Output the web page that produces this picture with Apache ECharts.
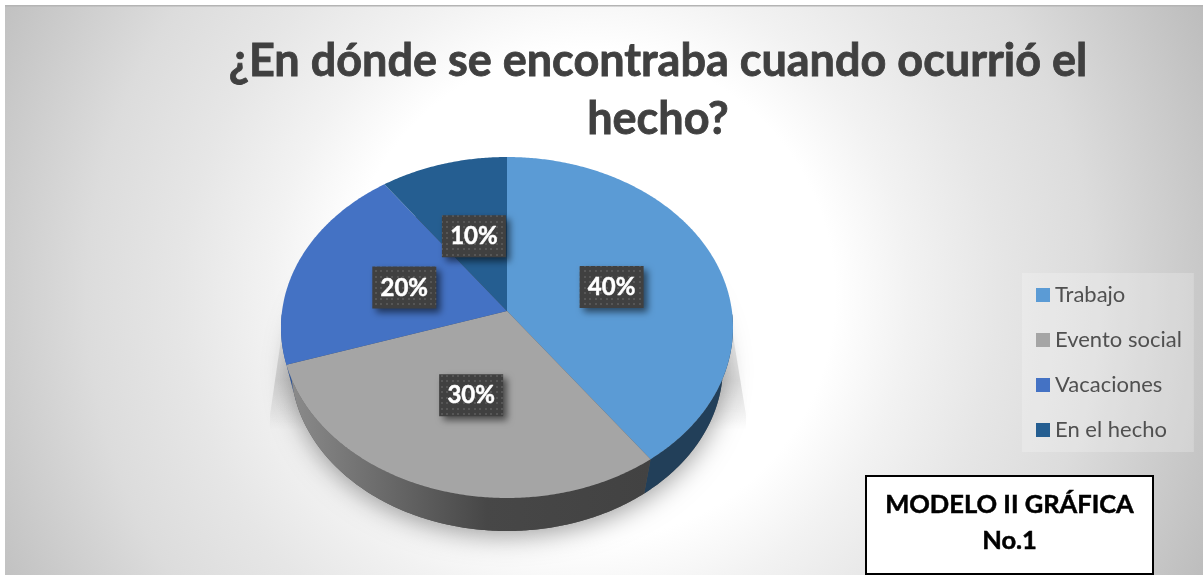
<!DOCTYPE html>
<html><head><meta charset="utf-8">
<style>html,body{margin:0;padding:0;background:#fff}#c{width:1203px;height:575px}</style>
<script src="https://cdn.jsdelivr.net/npm/echarts@6/dist/echarts.min.js"></script>
</head><body><div id="c"></div>
<script>
const titleText = '¿En dónde se encontraba cuando ocurrió el\nhecho?';
const categories = ['Trabajo', 'Evento social', 'Vacaciones', 'En el hecho'];
const values = [40, 30, 20, 10];
const sliceColors = ['#5b9bd5', '#a5a5a5', '#4472c4', '#255e91'];
const noteText = 'MODELO II GRÁFICA\nNo.1';

const FONT = 'Lato';
const total = values.reduce((a, b) => a + b, 0);
const APEX = { x: 507, y: 311 }, TILT = 0.75;
const TOP = { x: 507, y: 327.5, rx: 226, ry: 170.5 };
const BASE = { x: 507, y: 366, rx: 216, ry: 165 };
const LABEL_DIST = [110, 116, 108, 107];
const wallPaint = [
  '#223f59',
  new echarts.graphic.LinearGradient(287, 0, 650, 0, [
    { offset: 0, color: '#8c8c8c' }, { offset: 0.3, color: '#666666' },
    { offset: 0.55, color: '#474747' }, { offset: 1, color: '#424242' }], true),
  '#2f5597',
  '#1a4265'
];

function rimPoint(deg) {
  const a = deg * Math.PI / 180, dx = Math.sin(a), dy = -TILT * Math.cos(a);
  const ox = APEX.x - TOP.x, oy = APEX.y - TOP.y;
  const A = dx * dx / (TOP.rx * TOP.rx) + dy * dy / (TOP.ry * TOP.ry);
  const B = 2 * (ox * dx / (TOP.rx * TOP.rx) + oy * dy / (TOP.ry * TOP.ry));
  const C = ox * ox / (TOP.rx * TOP.rx) + oy * oy / (TOP.ry * TOP.ry) - 1;
  const s = (-B + Math.sqrt(B * B - 4 * A * C)) / (2 * A);
  return [APEX.x + s * dx, APEX.y + s * dy];
}
function ellipseParam(p) {
  let t = Math.atan2((p[0] - TOP.x) / TOP.rx, -(p[1] - TOP.y) / TOP.ry) * 180 / Math.PI;
  return t < 0 ? t + 360 : t;
}
function basePoint(t) {
  const a = t * Math.PI / 180;
  return [BASE.x + BASE.rx * Math.sin(a), BASE.y - BASE.ry * Math.cos(a)];
}

const dotTile = document.createElement('canvas');
dotTile.width = 11; dotTile.height = 11;
(function () {
  const g = dotTile.getContext('2d');
  g.fillStyle = '#404040'; g.fillRect(0, 0, 11, 11);
  g.fillStyle = '#565656';
  [[1, 1], [6, 1], [1, 6], [6, 6]].forEach(p => g.fillRect(p[0], p[1], 2, 2));
})();

function makeRender(index) {
  return function (params, api) {
    const v = api.value(0);
    let before = 0;
    for (let i = 0; i < index; i++) before += values[i];
    const start = before / total * 360, end = (before + v) / total * 360;
    const rim = [];
    for (let d = start; d <= end + 1e-6; d += 0.5) rim.push(rimPoint(d));
    const children = [];
    if (index === 0) {
      const base = [];
      for (let t = 0; t < 360; t += 2) base.push(basePoint(t));
      children.push({ type: 'polygon', z2: 0, shape: { points: base },
        style: { fill: '#555', shadowBlur: 26, shadowColor: 'rgba(0,0,0,0.38)', shadowOffsetY: 5 } });
    }
    const front = rim.filter(p => { const t = ellipseParam(p); return t >= 85 && t <= 275; });
    if (front.length > 1) {
      const low = front.map(p => basePoint(ellipseParam(p))).reverse();
      children.push({ type: 'polygon', z2: 1, shape: { points: front.concat(low) },
        style: { fill: wallPaint[index], stroke: null } });
    }
    children.push({ type: 'polygon', z2: 2, shape: { points: [[APEX.x, APEX.y]].concat(rim) },
      style: { fill: sliceColors[index] } });
    const mid = (start + end) / 2 * Math.PI / 180;
    const lx = APEX.x + LABEL_DIST[index] * Math.sin(mid);
    const ly = APEX.y - LABEL_DIST[index] * TILT * Math.cos(mid) + 1.5;
    children.push({ type: 'rect', z2: 5, shape: { x: lx - 32, y: ly - 21, width: 64, height: 42 },
      style: { fill: { image: dotTile, repeat: 'repeat' }, shadowBlur: 7, shadowOffsetX: 4, shadowOffsetY: 4, shadowColor: 'rgba(0,0,0,0.55)' } });
    children.push({ type: 'text', z2: 6, style: { x: lx, y: ly + 0.5, text: Math.round(v / total * 100) + '%',
      fill: '#fff', stroke: '#fff', lineWidth: 0.5, font: 'bold 24px ' + FONT, align: 'center', verticalAlign: 'middle' } });
    return { type: 'group', children };
  };
}

const bgGradient = new echarts.graphic.RadialGradient(590, 295, 680, [
  { offset: 0, color: '#ffffff' }, { offset: 0.36, color: '#ffffff' },
  { offset: 0.47, color: '#f2f2f2' }, { offset: 0.6, color: '#e6e6e6' },
  { offset: 0.74, color: '#dcdcdc' }, { offset: 0.87, color: '#cccccc' },
  { offset: 1, color: '#bcbcbc' }], true);

const chart = echarts.init(document.getElementById('c'), null, { renderer: 'canvas' });
chart.setOption({
  animation: false,
  color: sliceColors,
  title: { text: titleText, left: 653, top: 27, textAlign: 'center',
    textStyle: { fontFamily: FONT, fontWeight: 'bold', fontSize: 45, lineHeight: 58, color: '#404040',
      textBorderColor: '#404040', textBorderWidth: 0.8 } },
  legend: { orient: 'vertical', left: 1022, top: 273, width: 172, height: 180,
    padding: [11, 12, 11, 14], itemGap: 23, itemWidth: 14, itemHeight: 14, icon: 'rect',
    selectedMode: false, backgroundColor: 'rgba(255,255,255,0.22)', data: categories,
    textStyle: { fontFamily: FONT, fontSize: 22, lineHeight: 22, color: '#505050' } },
  graphic: [
    { type: 'rect', z: -10, shape: { x: 5, y: 6, width: 1198, height: 569 },
      style: { fill: bgGradient }, silent: true },
    { type: 'rect', z: -9, shape: { x: 5, y: 5, width: 1198, height: 1.5 }, style: { fill: '#b4b4b4' }, silent: true },
    { type: 'polygon', z: -8, shape: { points: [[286, 305], [728, 305], [746, 415], [746, 430], [270, 430], [270, 415]] },
      style: { fill: new echarts.graphic.LinearGradient(0, 0, 0, 1, [
        { offset: 0, color: 'rgba(0,0,0,0.05)' }, { offset: 0.6, color: 'rgba(0,0,0,0.12)' }, { offset: 0.85, color: 'rgba(0,0,0,0.05)' }, { offset: 1, color: 'rgba(0,0,0,0)' }]),
        shadowBlur: 8, shadowColor: 'rgba(0,0,0,0.12)' }, silent: true },
    { type: 'rect', z: 8, shape: { x: 866, y: 476, width: 287, height: 98 },
      style: { fill: '#fff', stroke: '#000', lineWidth: 2 }, silent: true },
    { type: 'text', z: 9, style: { x: 1009.5, y: 523, text: noteText, fill: '#000', stroke: '#000', lineWidth: 0.5, font: 'bold 25.5px ' + FONT,
      lineHeight: 36, align: 'center', verticalAlign: 'middle' }, silent: true }
  ],
  series: categories.map((name, i) => ({
    type: 'custom', name, coordinateSystem: 'none', silent: true, clip: false,
    itemStyle: { color: sliceColors[i] }, data: [[values[i]]], renderItem: makeRender(i)
  }))
});
</script></body></html>
